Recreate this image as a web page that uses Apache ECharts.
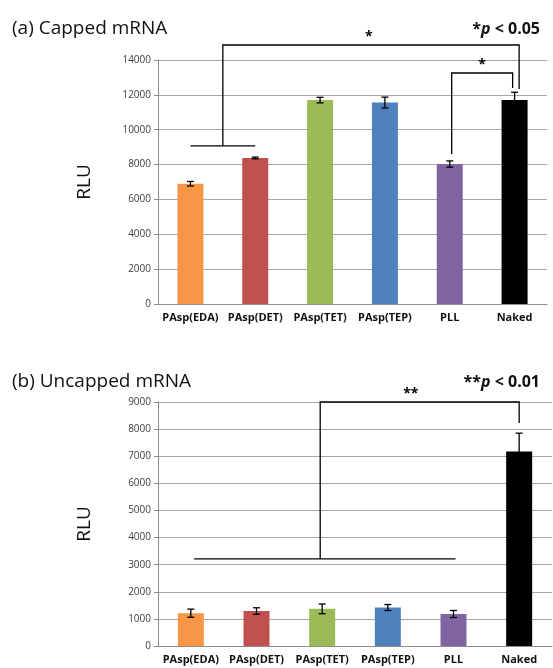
<!DOCTYPE html>
<html><head><meta charset="utf-8">
<script src="https://cdn.jsdelivr.net/npm/echarts@6/dist/echarts.min.js"></script>
<style>html,body{margin:0;padding:0;background:#fff}#c{width:553px;height:668px}</style>
</head><body><div id="c"></div>
<script>
const categories = ['PAsp(EDA)','PAsp(DET)','PAsp(TET)','PAsp(TEP)','PLL','Naked'];
const colors = ['#F79646','#C0504D','#9BBB59','#4F81BD','#8064A2','#000000'];
const cappedValues = [6900, 8380, 11700, 11560, 8030, 11700];
const cappedErrors = [130, 50, 160, 310, 180, 450];
const uncappedValues = [1210, 1290, 1370, 1420, 1180, 7170];
const uncappedErrors = [150, 120, 180, 110, 130, 680];
const cappedTicks = {min: 0, max: 14000, interval: 2000};
const uncappedTicks = {min: 0, max: 9000, interval: 1000};
// significance brackets: [x positions in category units, y values]
const cappedBrackets = [
  {path: [[0.5, 9070], [0.5, 14860], [5.07, 14860], [5.07, 12340]], sub: [[0, 9070], [1, 9070]], star: '*', starX: 2.75},
  {path: [[4.03, 8607], [4.03, 13255], [4.97, 13255], [4.97, 12394]], sub: null, star: '*', starX: 4.5}
];
const uncappedBrackets = [
  {path: [[1.97, 3210], [1.97, 9000], [5.0, 9000], [5.0, 8230]], sub: [[0.05, 3210], [4.03, 3210]], star: '**', starX: 3.35}
];

const chart = echarts.init(document.getElementById('c'), null, {renderer: 'canvas'});
const FONT = 'Open Sans';

function errorSeries(xi, yi, vals, errs) {
  return {
    type: 'custom', xAxisIndex: xi, yAxisIndex: yi, z: 5,
    data: vals.map((v, i) => [i, v, errs[i]]),
    renderItem: function (params, api) {
      const i = api.value(0), v = api.value(1), e = api.value(2);
      const hi = api.coord([i, v + e]), lo = api.coord([i, v - e]);
      const w = 3.5;
      const st = {stroke: '#000', lineWidth: 1.3};
      return {type: 'group', children: [
        {type: 'line', shape: {x1: hi[0], y1: hi[1], x2: lo[0], y2: lo[1]}, style: st},
        {type: 'line', shape: {x1: hi[0]-w, y1: hi[1], x2: hi[0]+w, y2: hi[1]}, style: st},
        {type: 'line', shape: {x1: lo[0]-w, y1: lo[1], x2: lo[0]+w, y2: lo[1]}, style: st}
      ]};
    }
  };
}
function bracketSeries(xi, yi, brackets) {
  return {
    type: 'custom', xAxisIndex: xi, yAxisIndex: yi, z: 6, clip: false, silent: true,
    data: brackets.map((b, k) => [k]),
    renderItem: function (params, api) {
      const b = brackets[params.dataIndex];
      const pts = b.path.map(p => api.coord(p));
      const children = [{type: 'polyline', shape: {points: pts}, style: {stroke: '#000', lineWidth: 1.3, fill: null}}];
      if (b.sub) {
        const s = b.sub.map(p => api.coord(p));
        children.push({type: 'line', shape: {x1: s[0][0], y1: s[0][1], x2: s[1][0], y2: s[1][1]}, style: {stroke: '#000', lineWidth: 1.3}});
      }
      const topY = b.path[1][1];
      const sp = api.coord([b.starX, topY]);
      children.push({type: 'text', x: sp[0], y: sp[1] - 1, style: {text: b.star, fontSize: 14, fontWeight: 'bold', fontFamily: FONT, fill: '#000', align: 'center', verticalAlign: 'bottom'}});
      return {type: 'group', children: children};
    }
  };
}

const yAxisCommon = {
  type: 'value',
  axisLine: {show: true, onZero: false, lineStyle: {color: '#8c8c8c', width: 1}},
  axisTick: {show: true, length: 4, lineStyle: {color: '#8c8c8c'}},
  splitLine: {show: true, lineStyle: {color: '#a6a6a6', width: 1}},
  axisLabel: {fontSize: 10, color: '#404040', fontFamily: FONT, margin: 7, formatter: v => String(v)},
  name: 'RLU', nameLocation: 'middle', nameRotate: 90, nameGap: 64,
  nameTextStyle: {fontSize: 19, color: '#111', fontFamily: FONT}
};
const xCat = {
  type: 'category', data: categories,
  axisLine: {show: true, onZero: false, lineStyle: {color: '#8c8c8c'}},
  axisTick: {show: false},
  axisLabel: {fontSize: 11, fontWeight: 'bold', color: '#111', fontFamily: FONT, margin: 8, interval: 0}
};
const xVal = {type: 'value', min: -0.5, max: 5.5, show: false, splitLine: {show: false}};

const option = {
  backgroundColor: '#ffffff',
  animation: false,
  title: [
    {text: '(a) Capped mRNA', left: 7, top: 14, textStyle: {fontSize: 19, fontWeight: 'normal', fontFamily: FONT, color: '#111'}},
    {text: '{s|*}{p|p}{s| < 0.05}', right: 8, top: 16, textStyle: {rich: {
      s: {fontSize: 16, fontWeight: 'bold', fontFamily: FONT, color: '#111'},
      p: {fontSize: 16, fontWeight: 'bold', fontStyle: 'italic', fontFamily: FONT, color: '#111'}}}},
    {text: '(b) Uncapped mRNA', left: 7, top: 367, textStyle: {fontSize: 19, fontWeight: 'normal', fontFamily: FONT, color: '#111'}},
    {text: '{s|**}{p|p}{s| < 0.01}', right: 8, top: 369, textStyle: {rich: {
      s: {fontSize: 16, fontWeight: 'bold', fontFamily: FONT, color: '#111'},
      p: {fontSize: 16, fontWeight: 'bold', fontStyle: 'italic', fontFamily: FONT, color: '#111'}}}}
  ],
  grid: [
    {left: 158, top: 60, width: 389, height: 244},
    {left: 158, top: 402, width: 394, height: 244}
  ],
  xAxis: [
    Object.assign({gridIndex: 0}, xCat),
    Object.assign({gridIndex: 1}, xCat),
    Object.assign({gridIndex: 0}, xVal),
    Object.assign({gridIndex: 1}, xVal)
  ],
  yAxis: [
    Object.assign({gridIndex: 0}, yAxisCommon, cappedTicks),
    Object.assign({gridIndex: 1}, yAxisCommon, uncappedTicks)
  ],
  series: [
    {type: 'bar', xAxisIndex: 0, yAxisIndex: 0, barWidth: 26,
     data: cappedValues.map((v, i) => ({value: v, itemStyle: {color: colors[i]}}))},
    {type: 'bar', xAxisIndex: 1, yAxisIndex: 1, barWidth: 26,
     data: uncappedValues.map((v, i) => ({value: v, itemStyle: {color: colors[i]}}))},
    errorSeries(0, 0, cappedValues, cappedErrors),
    errorSeries(1, 1, uncappedValues, uncappedErrors),
    bracketSeries(2, 0, cappedBrackets),
    bracketSeries(3, 1, uncappedBrackets)
  ]
};
chart.setOption(option);
</script></body></html>
